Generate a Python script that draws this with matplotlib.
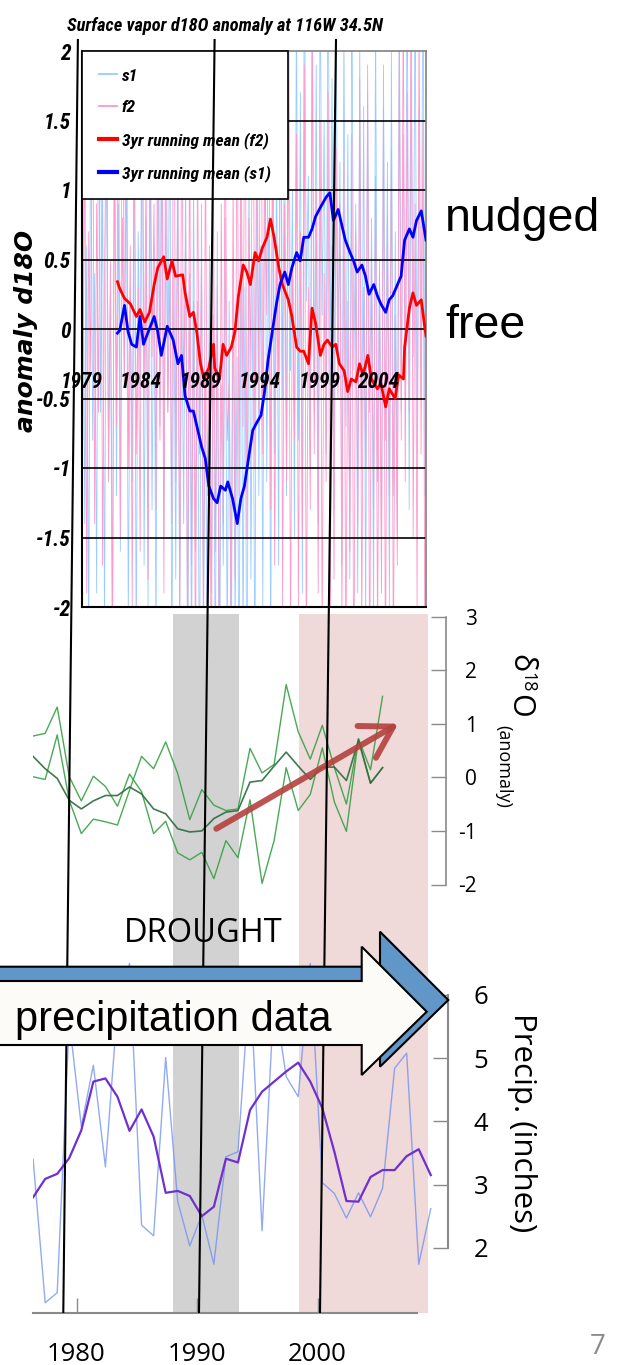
import matplotlib.pyplot as plt
from matplotlib import font_manager
from matplotlib.font_manager import FontProperties
from matplotlib.lines import Line2D
from matplotlib.patches import Polygon
from matplotlib.transforms import Affine2D

plt.rcParams['axes.unicode_minus'] = False

W, H = 619, 1365

# ---------------- top panel: surface vapor d18O (model runs) ----------------
top_title = 'Surface vapor d18O anomaly at 116W 34.5N'
top_year_ticks = [1979, 1984, 1989, 1994, 1999, 2004]
top_yticks = [-2, -1.5, -1, -0.5, 0, 0.5, 1, 1.5, 2]

# two-monthly values, 1979-2007 (six per year)
s1_noise = [
    1.2, -1.4, 0.6, -2.3, 1.9, -0.8,   0.4, -1.9, 2.4, -0.6, 1.1, -2.2,
    1.7, -0.9, 0.3, -2.5, 2.1, -1.2,   0.9, -1.6, 2.6, -0.4, 1.3, -2.1,
    0.2, -1.1, 1.8, -2.4, 0.7, -0.5,   2.2, -1.7, 0.8, -2.0, 1.5, -1.3,
    0.6, -2.3, 1.4, -0.7, 2.3, -1.5,   1.0, -0.6, 1.9, -2.6, 0.5, -1.8,
    1.6, -2.2, 0.3, -1.4, 1.2, -2.7,   0.4, -2.5, 1.1, -1.6, 0.2, -2.9,
    0.9, -2.1, -0.3, -2.8, 0.6, -1.9,  0.1, -2.6, 0.7, -3.0, -0.4, -1.7,
    0.8, -2.4, 0.2, -2.9, 0.5, -2.2,   -0.2, -2.8, 1.0, -2.3, 0.3, -3.1,
    1.2, -1.8, 0.4, -2.6, 1.5, -1.2,   0.6, -2.0, 1.9, -1.1, 0.8, -2.4,
    2.1, -0.9, 1.3, -1.7, 2.5, -0.5,   1.6, -1.2, 2.8, -0.3, 1.0, -1.5,
    2.4, -0.8, 1.7, -1.9, 2.9, 0.2,    1.1, -1.0, 2.6, -0.6, 1.9, -1.4,
    2.7, 0.1, 1.5, -0.9, 3.0, -0.4,    1.8, -1.3, 2.5, -0.2, 1.2, -1.7,
    2.2, -0.7, 1.4, -1.8, 2.6, -0.3,   0.9, -1.9, 2.1, -1.0, 1.6, -2.2,
    1.7, -0.6, 0.8, -2.1, 2.3, -1.1,   0.5, -1.6, 1.9, -0.8, 1.2, -2.0,
    2.0, -1.2, 0.7, -1.5, 2.4, -0.6,   1.4, -0.4, 2.7, -1.3, 1.8, -0.2,
    2.5, -0.9, 1.6, -0.5, 2.9, -1.2,
]
f2_noise = [
    -0.8, 1.5, -1.9, 0.7, -0.3, 2.1,   -1.4, 0.9, -0.6, 2.3, -1.7, 0.4,
    1.8, -1.1, 0.5, -2.2, 1.3, -0.7,   2.0, -1.5, 0.8, -0.4, 2.4, -1.0,
    0.6, -2.0, 1.7, -0.9, 0.3, -1.6,   2.2, -0.5, 1.2, -1.8, 1.9, -0.2,
    0.9, -1.3, 2.6, -0.8, 1.5, -1.9,   2.3, -0.6, 0.4, -1.4, 2.7, -1.1,
    1.1, -2.1, 1.8, -0.5, 0.7, -2.4,   1.6, -1.7, 0.2, -2.6, 1.3, -0.9,
    0.5, -2.3, 1.4, -1.2, -0.1, -2.8,  1.2, -1.6, 0.3, -2.5, 0.9, -1.4,
    1.7, -0.8, -0.4, -2.2, 1.1, -1.8,  2.1, -1.2, 1.5, -0.7, 2.4, -1.5,
    0.8, -0.3, 2.6, -1.0, 1.9, -0.6,   2.8, -0.9, 1.3, 0.1, 2.2, -1.3,
    1.6, -1.7, 0.6, -0.4, 2.5, -2.0,   0.9, -1.1, 1.8, -2.3, 0.5, -0.8,
    1.4, -2.0, 0.7, -1.5, 1.9, -2.4,   0.3, -1.3, 2.2, -0.9, 1.0, -1.9,
    1.5, -2.2, 0.4, -1.1, 1.7, -2.6,   0.6, -1.8, 1.3, -0.5, 0.9, -2.1,
    1.2, -2.5, 0.2, -1.6, 1.4, -2.9,   0.7, -1.4, 1.8, -2.2, 0.3, -1.0,
    1.9, -2.7, 0.5, -1.3, 1.1, -2.3,   0.4, -1.9, 1.6, -2.6, 0.8, -1.2,
    1.3, -2.4, 0.1, -1.7, 2.0, -0.8,   2.4, -1.1, 1.7, -0.6, 2.8, -1.5,
    0.9, -2.0, 2.3, -0.9, 1.5, -2.7,
]

f2_mean_t = [1982.0, 1982.2, 1982.6, 1983.1, 1983.6, 1983.9, 1984.3, 1984.7, 1985.1, 1985.4,
             1985.9, 1986.2, 1986.6, 1986.9, 1987.5, 1987.7, 1988.1, 1988.4, 1988.7, 1989.0,
             1989.3, 1989.7, 1990.1, 1990.2, 1990.6, 1990.9, 1991.2, 1991.6, 1991.9, 1992.2,
             1992.6, 1992.9, 1993.2, 1993.6, 1993.9, 1994.2, 1994.6, 1994.9, 1995.2, 1995.6,
             1995.9, 1996.4, 1996.7, 1997.1, 1997.4, 1997.7, 1998.1, 1998.4, 1998.7, 1999.1,
             1999.4, 1999.7, 2000.1, 2000.4, 2000.7, 2001.1, 2001.4, 2001.7, 2002.1, 2002.4,
             2002.7, 2003.1, 2003.4, 2003.9, 2004.2, 2004.6, 2004.9, 2005.4, 2005.7, 2006.1,
             2006.2, 2006.6, 2006.9, 2007.2, 2007.6, 2007.9, 2008.0]
f2_mean_v = [0.34, 0.29, 0.22, 0.18, 0.09, 0.14, 0.05, 0.12, 0.32, 0.44,
             0.52, 0.36, 0.49, 0.38, 0.39, 0.26, 0.09, 0.12, -0.03, -0.25,
             -0.36, -0.28, -0.11, -0.28, -0.36, -0.11, -0.19, -0.13, -0.02, 0.24,
             0.46, 0.41, 0.32, 0.55, 0.49, 0.58, 0.66, 0.79, 0.66, 0.44,
             0.32, 0.21, 0.09, -0.13, -0.16, -0.16, -0.25, 0.15, 0.04, -0.19,
             -0.11, -0.08, -0.13, -0.11, -0.25, -0.30, -0.45, -0.36, -0.38, -0.25,
             -0.33, -0.19, -0.36, -0.43, -0.39, -0.56, -0.43, -0.50, -0.33, -0.36,
             -0.13, 0.15, 0.26, 0.17, 0.21, 0.01, -0.05]

s1_mean_t = [1982.0, 1982.2, 1982.6, 1982.9, 1983.2, 1983.6, 1983.9, 1984.2, 1984.6, 1985.1,
             1985.4, 1985.7, 1986.2, 1986.7, 1987.1, 1987.4, 1987.7, 1988.1, 1988.4, 1988.7,
             1989.1, 1989.4, 1989.7, 1990.1, 1990.4, 1990.7, 1991.1, 1991.3, 1991.7, 1992.1,
             1992.4, 1992.7, 1993.1, 1993.4, 1993.7, 1994.1, 1994.4, 1994.7, 1995.1, 1995.4,
             1995.7, 1996.1, 1996.4, 1996.7, 1997.1, 1997.4, 1997.7, 1998.1, 1998.4, 1998.7,
             1999.2, 1999.6, 1999.9, 2000.2, 2000.6, 2000.9, 2001.2, 2001.6, 2001.9, 2002.2,
             2002.6, 2002.9, 2003.2, 2003.6, 2003.9, 2004.2, 2004.6, 2004.9, 2005.2, 2005.6,
             2005.9, 2006.2, 2006.6, 2006.9, 2007.2, 2007.6, 2008.0]
s1_mean_v = [-0.03, -0.01, 0.17, -0.02, -0.11, -0.13, 0.09, -0.11, -0.02, 0.09,
             -0.02, -0.19, 0.02, -0.08, -0.25, -0.19, -0.48, -0.59, -0.59, -0.70,
             -0.85, -0.93, -1.13, -1.22, -1.25, -1.13, -1.16, -1.10, -1.22, -1.40,
             -1.22, -1.13, -0.90, -0.73, -0.68, -0.62, -0.45, -0.22, 0.01, 0.18,
             0.32, 0.41, 0.32, 0.44, 0.55, 0.49, 0.66, 0.66, 0.72, 0.81,
             0.89, 0.95, 0.98, 0.78, 0.86, 0.75, 0.64, 0.55, 0.49, 0.41,
             0.46, 0.38, 0.25, 0.32, 0.24, 0.18, 0.12, 0.21, 0.24, 0.32,
             0.38, 0.64, 0.72, 0.66, 0.78, 0.85, 0.64]

# ---------------- middle panel: proxy d18O anomaly ----------------
d18o_years = list(range(1976, 2006))
d18o_a = [0.77, 0.82, 1.31, 0.01, -0.44, 0.02, -0.17, -0.54, 0.06, -0.27,
          -1.05, -0.82, -1.41, -1.54, -1.40, -1.89, -1.18, -1.50, -0.42, -1.98,
          -1.18, 0.18, -0.62, -0.32, 0.55, -0.46, -1.01, 0.72, -0.11, 0.18]
d18o_b = [0.01, -0.04, 0.79, -0.43, -1.05, -0.78, -0.83, -0.89, -0.24, 0.39,
          0.16, 0.66, 0.07, -0.79, -0.23, -0.52, -0.62, -0.59, 0.54, 0.08,
          0.24, 1.73, 0.85, 0.34, 0.97, 0.18, -0.50, 0.72, 0.14, 1.51]
d18o_smooth = [0.39, 0.16, -0.02, -0.43, -0.59, -0.44, -0.34, -0.34, -0.18, -0.31,
               -0.59, -0.68, -0.96, -1.02, -1.00, -0.77, -0.65, -0.62, -0.09, -0.06,
               0.21, 0.47, 0.21, -0.04, 0.19, 0.19, -0.06, 0.69, -0.11, 0.18]
d18o_ticks = [-2, -1, 0, 1, 2, 3]

# ---------------- bottom panel: precipitation ----------------
precip_years = list(range(1976, 2010))
precip = [3.40, 1.13, 1.29, 5.60, 3.92, 4.89, 3.28, 5.80, 6.50, 2.36,
          2.19, 5.01, 2.73, 2.03, 2.52, 1.74, 3.44, 3.52, 6.30, 2.27,
          6.00, 4.71, 4.39, 6.50, 3.03, 2.86, 2.47, 2.87, 2.49, 2.94,
          4.84, 5.08, 1.74, 2.62]
precip_mean = [2.80, 3.09, 3.17, 3.42, 3.86, 4.63, 4.68, 4.39, 3.85, 4.19,
               3.76, 2.87, 2.90, 2.82, 2.50, 2.65, 3.41, 3.35, 4.18, 4.47,
               4.63, 4.79, 4.93, 4.63, 4.21, 3.52, 2.74, 2.73, 3.12, 3.23,
               3.23, 3.45, 3.56, 3.15]
precip_ticks = [2, 3, 4, 5, 6]
bottom_year_ticks = [1980, 1990, 2000]

drought_span = (1988.0, 1993.5)
recent_span = (1998.45, 2009.15)

# ---------------- fonts ----------------
installed = {f.name for f in font_manager.fontManager.ttflist}
narrow = next((n for n in ['Liberation Sans Narrow', 'DejaVu Sans Condensed', 'Roboto Condensed']
               if n in installed), None)
nscale = 1.0
if narrow is None:
    narrow, nscale = 'Liberation Sans', 0.82


def nfont(size):
    return FontProperties(family=narrow, weight='bold', style='italic', size=size * nscale)


fig = plt.figure(figsize=(W / 100, H / 100), dpi=100)
pix = Affine2D().scale(1 / W, -1 / H).translate(0, 1) + fig.transFigure


def px_axes(x0, x1, y0, y1):
    return fig.add_axes([x0 / W, 1 - y1 / H, (x1 - x0) / W, (y1 - y0) / H])


def px2yr(x):
    return 1980 + (x - 76.5) / 12.05


# ---------------- top panel ----------------
ax = px_axes(81.8, 426, 51, 607)
ax.set_zorder(2)
noise_t = [1979 + (i + 0.5) / 6 for i in range(len(s1_noise))]
ax.plot(noise_t, s1_noise, color='#99CCFF', lw=0.6, zorder=1, label='s1')
ax.plot(noise_t, f2_noise, color='#FF99CC', lw=0.6, zorder=1, label='f2')
for v in top_yticks[1:-1]:
    ax.axhline(v, color='black', lw=1.2, zorder=1.5)
ax.plot(f2_mean_t, f2_mean_v, color='#FF0000', lw=2.0, zorder=3, label='3yr running mean (f2)')
ax.plot(s1_mean_t, s1_mean_v, color='#0000FF', lw=2.0, zorder=3, label='3yr running mean (s1)')
ax.set_xlim(1979, 2008)
ax.set_ylim(-2, 2)
ax.set_xticks([])
ax.set_yticks(top_yticks)
ax.set_yticklabels(['%g' % v for v in top_yticks])
ax.tick_params(axis='y', length=0, pad=8)
for lbl in ax.get_yticklabels():
    lbl.set_fontproperties(nfont(15.5))
for side in ['left', 'bottom']:
    ax.spines[side].set_color('black')
    ax.spines[side].set_linewidth(1.5)
for side in ['top', 'right']:
    ax.spines[side].set_color('#808080')
    ax.spines[side].set_linewidth(1.2)
for yr in top_year_ticks:
    ax.text(yr, -0.38, str(yr), ha='center', va='center', fontproperties=nfont(15.5), zorder=4)

leg = ax.legend(loc='upper left', bbox_to_anchor=(0, 1), borderaxespad=0, prop=nfont(12.5),
                frameon=True, fancybox=False, edgecolor='black', framealpha=1,
                handlelength=1.0, handletextpad=0.3, borderpad=1.0, labelspacing=0.95)
leg.get_frame().set_linewidth(1.2)
for h in leg.legend_handles[:2]:
    h.set_linewidth(1.3)
for h in leg.legend_handles[2:]:
    h.set_linewidth(3.0)

fig.text(225 / W, 1 - 31 / H, top_title, ha='center', va='baseline', fontproperties=nfont(13.2))
fig.text(26 / W, 1 - 331 / H, 'anomaly d18O', rotation=90, ha='center', va='center',
         family='DejaVu Sans', weight='bold', style='italic', size=18)
fig.text(445 / W, 1 - 231 / H, 'nudged', ha='left', va='baseline', family='Liberation Sans', size=33.5)
fig.text(445 / W, 1 - 338 / H, 'free', ha='left', va='baseline', family='Liberation Sans', size=33.5)

# ---------------- shaded periods behind the lower panels ----------------
axbg = px_axes(33, 448, 614, 1313)
axbg.set_zorder(0)
axbg.set_xlim(px2yr(33), px2yr(448))
axbg.axvspan(*drought_span, color='#d2d2d2', lw=0)
axbg.axvspan(*recent_span, color='#efd9d9', lw=0)
axbg.axis('off')

# ---------------- middle panel ----------------
axm = px_axes(33, 446, 616.5, 884.5)
axm.set_zorder(1)
axm.patch.set_alpha(0)
xm = [y + 0.4 for y in d18o_years]
axm.plot(xm, d18o_a, color='#36a044', lw=1.0, alpha=0.9)
axm.plot(xm, d18o_b, color='#36a044', lw=1.0, alpha=0.9)
axm.plot(xm, d18o_smooth, color='#2d6b3c', lw=1.2, alpha=0.9)
axm.annotate('', xy=(2006.7, 1.0), xytext=(1991.6, -0.96),
             arrowprops=dict(arrowstyle='->,head_length=1.1,head_width=0.66', mutation_scale=20,
                             color='#b5413f', lw=4.3, alpha=0.9, shrinkA=0, shrinkB=0))
axm.set_xlim(px2yr(33), px2yr(446))
axm.set_ylim(-2, 3)
axm.set_xticks([])
axm.yaxis.tick_right()
axm.set_yticks(d18o_ticks)
axm.tick_params(axis='y', direction='in', length=10.8, width=1, color='#8a8a8a',
                labelsize=15, pad=22.5)
for lbl in axm.get_yticklabels():
    lbl.set_family('Open Sans')
    lbl.set_horizontalalignment('right')
for side in ['left', 'top', 'bottom']:
    axm.spines[side].set_visible(False)
axm.spines['right'].set_color('#8a8a8a')
axm.spines['right'].set_linewidth(1.2)

fig.text(520 / W, 1 - 663 / H, 'δ', rotation=270, ha='center', va='center', family='Open Sans', size=22)
fig.text(527 / W, 1 - 682 / H, '18', rotation=270, ha='center', va='center', family='Open Sans', size=13)
fig.text(519 / W, 1 - 706 / H, 'O', rotation=270, ha='center', va='center', family='Open Sans', size=22)
fig.text(503.5 / W, 1 - 766 / H, '(anomaly)', rotation=270, ha='center', va='center',
         family='Open Sans', size=13)
fig.text(203.5 / W, 1 - 933 / H, 'DROUGHT', ha='center', va='center', family='Open Sans',
         size=23.5, zorder=9)

# ---------------- bottom panel ----------------
axb = px_axes(33, 448, 940, 1313)
axb.set_zorder(1)
axb.patch.set_alpha(0)
xb = [y + 0.4 for y in precip_years]
axb.plot(xb, precip, color='#6e8ef0', lw=1.0, alpha=0.75)
axb.plot(xb, precip_mean, color='#7030d0', lw=1.6)
axb.set_xlim(px2yr(33), px2yr(448))
axb.set_ylim(6 - (1313 - 995) / 63.2, 6 + (995 - 940) / 63.2)
axb.yaxis.tick_right()
axb.set_yticks(precip_ticks)
axb.set_xticks(bottom_year_ticks)
axb.tick_params(direction='in', length=10.8, width=1, color='#8a8a8a', labelsize=18.5)
axb.tick_params(axis='y', pad=18.5)
axb.tick_params(axis='x', pad=21)
for lbl in axb.get_yticklabels() + axb.get_xticklabels():
    lbl.set_family('Open Sans')
for side in ['left', 'top']:
    axb.spines[side].set_visible(False)
axb.spines['right'].set_bounds(2, 6)
axb.spines['bottom'].set_bounds(px2yr(33), px2yr(417))
for side in ['right', 'bottom']:
    axb.spines[side].set_color('#8a8a8a')
    axb.spines[side].set_linewidth(1.5)

fig.text(522 / W, 1 - 1123 / H, 'Precip. (inches)', rotation=270, ha='center', va='center',
         family='Open Sans', size=22.5)
fig.text(598 / W, 1 - 1347 / H, '7', ha='center', va='center', family='Open Sans',
         size=20, color='#8c8c8c')

# ---------------- guide lines and the precipitation arrow ----------------
for xt, xb_ in [(77.9, 63.3), (214.6, 199.0), (336.0, 320.0)]:
    fig.add_artist(Line2D([xt, xb_], [40, 1312], transform=pix, color='black', lw=1.5, zorder=10))

back = [(-5, 966.7), (380, 966.7), (380, 931.7), (448.3, 1000), (380, 1066.7), (380, 1031), (-5, 1031)]
front = [(-5, 981), (361.7, 981), (361.7, 946.7), (426.7, 1011.7), (361.7, 1075), (361.7, 1045), (-5, 1045)]
fig.add_artist(Polygon(back, closed=True, transform=pix, facecolor='#6096c8', edgecolor='black',
                       lw=1.5, zorder=11))
fig.add_artist(Polygon(front, closed=True, transform=pix, facecolor='#fdfbf7', edgecolor='black',
                       lw=1.5, zorder=12))
fig.text(15 / W, 1 - 1031 / H, 'precipitation data', ha='left', va='baseline',
         family='Liberation Sans', size=30, zorder=13)

fig.savefig('out.png', dpi=100)
